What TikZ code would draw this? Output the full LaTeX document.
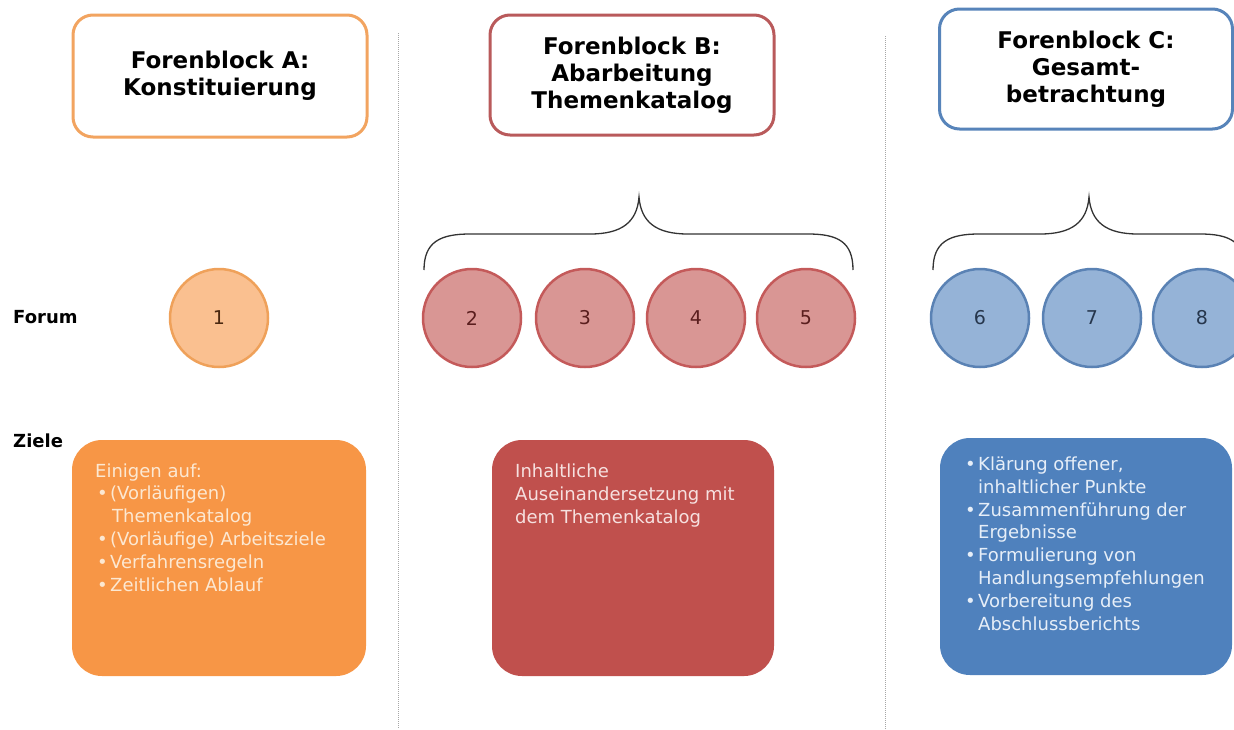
\documentclass[tikz,border=0pt]{standalone}
\usepackage{fontspec}
\setmainfont{DejaVu Sans}
\definecolor{hdrA}{HTML}{F2A460}
\definecolor{hdrB}{HTML}{B95A5B}
\definecolor{hdrC}{HTML}{5784BA}
\definecolor{fillA}{HTML}{F79646}
\definecolor{fillB}{HTML}{C0504D}
\definecolor{fillC}{HTML}{4F81BD}
\definecolor{circA}{HTML}{FAC090}
\definecolor{circAd}{HTML}{EFA15A}
\definecolor{circB}{HTML}{D99694}
\definecolor{circBd}{HTML}{C45A5A}
\definecolor{circC}{HTML}{95B3D7}
\definecolor{circCd}{HTML}{5A82B4}
\definecolor{txtA}{HTML}{FCE8D2}
\definecolor{txtB}{HTML}{F6E0DF}
\definecolor{txtC}{HTML}{E6EEF8}
\definecolor{numA}{HTML}{4A2810}
\definecolor{numB}{HTML}{5A1E1E}
\definecolor{numC}{HTML}{26364C}
\begin{document}
\begin{tikzpicture}[x=1pt,y=-1pt,
  hdr/.style={draw, fill=white, line width=3pt, rounded corners=20pt, align=center,
    font=\fontsize{23}{27}\selectfont\bfseries, text=black},
  goal/.style={rounded corners=30pt},
  forum/.style={circle, minimum size=98pt, inner sep=0pt, line width=2.5pt,
    font=\fontsize{19}{22}\selectfont},
  rowlabel/.style={anchor=base west, inner sep=0pt, font=\fontsize{18}{20}\selectfont\bfseries},
  goaltext/.style={anchor=base west, inner sep=0pt, align=left,
    font=\fontsize{18}{22.8}\selectfont},
  divider/.style={densely dotted, gray!70, line width=1pt},
  bracket/.style={draw=black!80, line width=1.3pt}
]
\useasboundingbox (0,0) rectangle (1234,729);
\begin{scope}
\clip (0,0) rectangle (1234,729);

% dividers
\coordinate (d1t) at (398,33);
\coordinate (d1b) at (398,729);
\coordinate (d2t) at (885,36);
\coordinate (d2b) at (885,729);
\draw[divider] (d1t) -- (d1b);
\draw[divider] (d2t) -- (d2b);

% headers
\node[hdr, draw=hdrA, minimum width=294pt, minimum height=122pt] (hA) at (220,76) {Forenblock A:\\Konstituierung};
\node[hdr, draw=hdrB, minimum width=284pt, minimum height=120pt] (hB) at (632,75) {Forenblock B:\\Abarbeitung\\Themenkatalog};
\node[hdr, draw=hdrC, minimum width=293pt, minimum height=120pt] (hC) at (1086,69) {Forenblock C:\\Gesamt-\\betrachtung};

% row labels
\node[rowlabel] (lforum) at (13,323) {Forum};
\node[rowlabel] (lziele) at (13,447) {Ziele};

% forum circles
\node[forum, fill=circA, draw=circAd, text=numA] (f1) at (219,318) {1};
\node[forum, fill=circB, draw=circBd, text=numB] (f2) at (472,318) {2};
\node[forum, fill=circB, draw=circBd, text=numB] (f3) at (585,318) {3};
\node[forum, fill=circB, draw=circBd, text=numB] (f4) at (696,318) {4};
\node[forum, fill=circB, draw=circBd, text=numB] (f5) at (806,318) {5};
\node[forum, fill=circC, draw=circCd, text=numC] (f6) at (980,318) {6};
\node[forum, fill=circC, draw=circCd, text=numC] (f7) at (1092,318) {7};
\node[forum, fill=circC, draw=circCd, text=numC] (f8) at (1202,318) {8};

% braces
\coordinate (bBl) at (424,270);
\coordinate (bBt) at (639,197);
\coordinate (bBr) at (853,270);
\draw[bracket] (bBl) .. controls (424,242) and (440,234) .. (470,234) -- (590,234)
  .. controls (622,234) and (637,222) .. (bBt)
  .. controls (641,222) and (656,234) .. (688,234) -- (808,234)
  .. controls (838,234) and (853,242) .. (bBr);
\coordinate (bCl) at (933,270);
\coordinate (bCt) at (1089,197);
\coordinate (bCr) at (1245,270);
\draw[bracket] (bCl) .. controls (933,242) and (949,234) .. (979,234) -- (1040,234)
  .. controls (1072,234) and (1087,222) .. (bCt)
  .. controls (1091,222) and (1106,234) .. (1138,234) -- (1200,234)
  .. controls (1230,234) and (1245,242) .. (bCr);

% goal boxes
\fill[goal, fill=fillA] (72,440) rectangle (366,676);
\fill[goal, fill=fillB] (492,440) rectangle (774,676);
\fill[goal, fill=fillC] (940,438) rectangle (1232,675);

% texts: anchor base = baseline of the last line
\node[goaltext, text=txtA] (gA) at (95,591) {Einigen auf:\\
\makebox[15pt][l]{\hspace{2pt}•}(Vorläufigen)\\
\hspace*{17pt}Themenkatalog\\
\makebox[15pt][l]{\hspace{2pt}•}(Vorläufige) Arbeitsziele\\
\makebox[15pt][l]{\hspace{2pt}•}Verfahrensregeln\\
\makebox[15pt][l]{\hspace{2pt}•}Zeitlichen Ablauf};

\node[goaltext, text=txtB] (gB) at (515,523) {Inhaltliche\\
Auseinandersetzung mit\\
dem Themenkatalog};

\node[goaltext, text=txtC] (gC) at (965,630) {\makebox[13pt][l]{•}Klärung offener,\\
\hspace*{13pt}inhaltlicher Punkte\\
\makebox[13pt][l]{•}Zusammenführung der\\
\hspace*{13pt}Ergebnisse\\
\makebox[13pt][l]{•}Formulierung von\\
\hspace*{13pt}Handlungsempfehlungen\\
\makebox[13pt][l]{•}Vorbereitung des\\
\hspace*{13pt}Abschlussberichts};
\end{scope}
\end{tikzpicture}
\end{document}
